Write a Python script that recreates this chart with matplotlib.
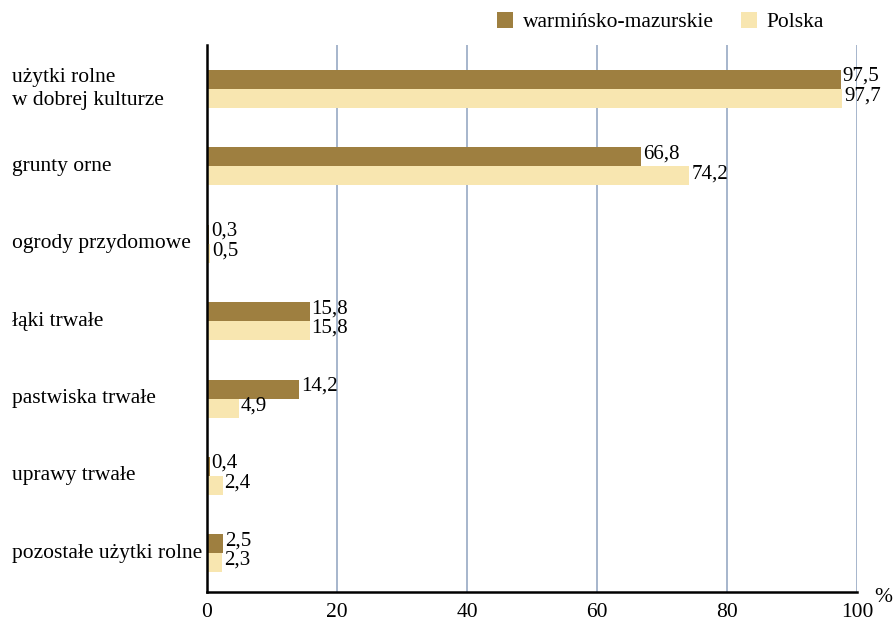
import numpy as np
import matplotlib.pyplot as plt
from matplotlib.patches import Patch

plt.rcParams["font.family"] = ["Liberation Serif", "DejaVu Serif"]

# Struktura użytków rolnych (%)
categories = [
    "użytki rolne\nw dobrej kulturze",
    "grunty orne",
    "ogrody przydomowe",
    "łąki trwałe",
    "pastwiska trwałe",
    "uprawy trwałe",
    "pozostałe użytki rolne",
]
region_vals = [97.5, 66.8, 0.3, 15.8, 14.2, 0.4, 2.5]
polska_vals = [97.7, 74.2, 0.5, 15.8, 4.9, 2.4, 2.3]
series_names = ["warmińsko-mazurskie", "Polska"]
xticks = [0, 20, 40, 60, 80, 100]

DARK = "#9e7f40"
LIGHT = "#f8e6b0"
GRID = "#9fb0c8"
FS = 15.5

fig = plt.figure(figsize=(8.93, 6.29), dpi=100)
ax = fig.add_axes([0.2318, 0.0588, 0.7279, 0.8697])

y = np.arange(len(categories))
h = 0.245
ax.barh(y - h / 2, region_vals, height=h, color=DARK, zorder=3)
ax.barh(y + h / 2, polska_vals, height=h, color=LIGHT, zorder=3)


def fmt(v):
    return f"{v:.1f}".replace(".", ",")


for yi, v in zip(y, region_vals):
    ax.text(v + 0.3, yi - h / 2 - 0.04, fmt(v), va="center", ha="left", fontsize=15)
for yi, v in zip(y, polska_vals):
    ax.text(v + 0.3, yi + h / 2 - 0.03, fmt(v), va="center", ha="left", fontsize=15)

ax.set_xlim(0, 100)
ax.set_ylim(len(categories) - 0.5, -0.57)

ax.set_yticks([])
for yi, c in zip(y, categories):
    ax.text(-0.3, yi, c, transform=ax.get_yaxis_transform(), ha="left",
            va="center", fontsize=FS, linespacing=1.25)

ax.set_xticks(xticks)
ax.set_xticklabels([str(t) for t in xticks], fontsize=FS)
ax.tick_params(axis="x", length=0, pad=8)
for t in xticks[1:]:
    ax.axvline(t, color=GRID, linewidth=1.3, zorder=1)

for s in ["top", "right"]:
    ax.spines[s].set_visible(False)
ax.spines["left"].set_linewidth(1.8)
ax.spines["bottom"].set_linewidth(1.8)
ax.spines["left"].set_zorder(4)

ax.text(1.04, -0.01, "%", transform=ax.transAxes, ha="center", va="center",
        fontsize=FS)

handles = [Patch(facecolor=DARK), Patch(facecolor=LIGHT)]
fig.legend(handles, series_names, loc="upper left", bbox_to_anchor=(0.535, 1.012),
           ncol=2, frameon=False, fontsize=FS, handlelength=0.75,
           handleheight=0.75, handletextpad=0.45, columnspacing=1.25)

fig.savefig("out.png", dpi=100)
